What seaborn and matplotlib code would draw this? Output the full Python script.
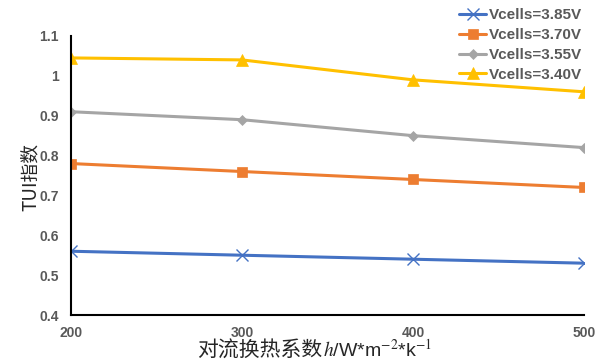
import matplotlib
matplotlib.use("Agg")
import matplotlib.pyplot as plt
import seaborn as sns
import pandas as pd

x_vals = [200, 300, 400, 500]
series_names = ["Vcells=3.85V", "Vcells=3.70V", "Vcells=3.55V", "Vcells=3.40V"]
v385 = [0.56, 0.55, 0.54, 0.53]
v370 = [0.78, 0.76, 0.74, 0.72]
v355 = [0.91, 0.89, 0.85, 0.82]
v340 = [1.045, 1.04, 0.99, 0.96]
y_ticks = [0.4, 0.5, 0.6, 0.7, 0.8, 0.9, 1.0, 1.1]
y_tick_labels = ["0.4", "0.5", "0.6", "0.7", "0.8", "0.9", "1", "1.1"]
xlabel_cn = "对流换热系数"
xlabel_unit = "$h$/W*m$^{-2}$*k$^{-1}$"
ylabel = "TUI指数"

sns.set_style("white")
plt.rcParams['font.family'] = ['Liberation Sans', 'Noto Sans CJK SC']
plt.rcParams['mathtext.fontset'] = 'stix'

colors = ["#4472C4", "#ED7D31", "#A5A5A5", "#FFC000"]
markers = ["x", "s", "D", "^"]
msizes = [8, 7.5, 5.5, 8]

fig = plt.figure(figsize=(6.05, 3.61), dpi=100)
ax = fig.add_axes([0.1174, 0.1274, 0.8476, 0.7729])

for name, vals, c, m, ms in zip(series_names, [v385, v370, v355, v340], colors, markers, msizes):
    df = pd.DataFrame({"x": x_vals, "y": vals})
    sns.lineplot(data=df, x="x", y="y", ax=ax, color=c, marker=m, markersize=ms,
                 markeredgecolor=c, markeredgewidth=1.0 if m == "x" else 0.5,
                 linewidth=2.2, label=name)

ax.set_xlim(200, 500)
ax.set_ylim(0.4, 1.1)
ax.set_xticks(x_vals)
ax.set_yticks(y_ticks)
ax.set_yticklabels(y_tick_labels)
for lab in ax.get_xticklabels() + ax.get_yticklabels():
    lab.set_fontweight("bold")
    lab.set_color("#595959")
    lab.set_fontsize(10)
ax.tick_params(axis="both", direction="out", length=3, width=1, color="black", pad=6)
ax.tick_params(axis="x", pad=5)
for s in ["top", "right"]:
    ax.spines[s].set_visible(False)
for s in ["left", "bottom"]:
    ax.spines[s].set_color("black")
    ax.spines[s].set_linewidth(1.5)
ax.grid(False)
ax.set_xlabel("")
ax.set_ylabel("")

fig.text(30 / 605, 1 - 177 / 361, ylabel, rotation=90, fontsize=13.5,
         family=['Noto Sans CJK SC', 'DejaVu Sans'], ha="center", va="center")

# x label: Chinese part + unit part placed side by side
fig.canvas.draw()
renderer = fig.canvas.get_renderer()
t1 = fig.text(0, 0, xlabel_cn, fontsize=15, family=['Noto Sans CJK SC'], va="baseline")
t2 = fig.text(0, 0, xlabel_unit, fontsize=14, va="baseline")
w1 = t1.get_window_extent(renderer).width
w2 = t2.get_window_extent(renderer).width
total = w1 + w2
cx = 314.0
left_px = cx - total / 2
base_y = 1 - 357 / 361
t1.set_position((left_px / 605, base_y))
t2.set_position(((left_px + w1 + 1) / 605, base_y))

handles, labels = ax.get_legend_handles_labels()
if ax.legend_:
    ax.legend_.remove()
leg = fig.legend(handles, labels, loc="upper right", bbox_to_anchor=(0.985, 1.015),
                 frameon=False, prop={"weight": "bold", "size": 11, "family": "Liberation Sans"},
                 handlelength=1.75, handletextpad=0.2, labelspacing=0.38)
for t in leg.get_texts():
    t.set_color("#595959")

fig.savefig("out.png", dpi=100)
